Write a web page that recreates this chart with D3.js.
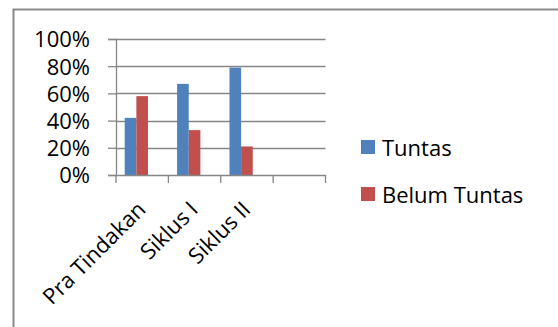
<!DOCTYPE html>
<html>
<head>
<meta charset="utf-8">
<script src="https://cdn.jsdelivr.net/npm/d3@7"></script>
<style>
  html, body { margin: 0; padding: 0; background: #fff; }
  svg { display: block; }
  text { font-family: "Open Sans", sans-serif; fill: #000; }
</style>
</head>
<body>
<script>
// Ketuntasan belajar per tahap
const categories = ["Pra Tindakan", "Siklus I", "Siklus II", ""];
const seriesNames = ["Tuntas", "Belum Tuntas"];
const tuntas = [42, 67, 79, null];
const belumTuntas = [58, 33, 21, null];
const yTicks = [0, 20, 40, 60, 80, 100];
const colors = ["#4F81BD", "#C0504D"];

const W = 558, H = 327;
const FONT = "Open Sans";
const FS = 22;
const svg = d3.select("body").append("svg").attr("width", W).attr("height", H);

// chart frame
svg.append("rect")
  .attr("x", 13.5).attr("y", 9.5)
  .attr("width", W + 20).attr("height", H + 20)
  .attr("fill", "none").attr("stroke", "#8a8a8a").attr("stroke-width", 2);

const plot = { left: 116, right: 325.5, top: 39, bottom: 175 };

const y = d3.scaleLinear().domain([0, 100]).range([plot.bottom, plot.top]);
const x0 = d3.scaleBand().domain(categories.map((d, i) => i))
  .range([plot.left, plot.right]).paddingInner(1 / 3).paddingOuter(1 / 6);
// three slots per category, the last one left empty
const x1 = d3.scaleBand().domain([0, 1, 2]).range([0, x0.bandwidth()]);

const axisColor = "#868686";

// gridlines
svg.append("g")
  .selectAll("line").data(yTicks.filter(t => t > 0)).join("line")
  .attr("x1", plot.left).attr("x2", plot.right)
  .attr("y1", d => Math.round(y(d)) + 0.5).attr("y2", d => Math.round(y(d)) + 0.5)
  .attr("stroke", axisColor).attr("stroke-width", 1.3);

// bars
const seriesData = [tuntas, belumTuntas];
seriesData.forEach((vals, si) => {
  svg.append("g").selectAll("rect")
    .data(vals.map((v, i) => ({ v, i })).filter(d => d.v != null))
    .join("rect")
    .attr("x", d => x0(d.i) + x1(si))
    .attr("width", x1.bandwidth())
    .attr("y", d => y(d.v))
    .attr("height", d => y(0) - y(d.v))
    .attr("fill", colors[si]);
});

// y axis
const yAxis = d3.axisLeft(y).tickValues(yTicks).tickFormat(d => d + "%")
  .tickSize(8).tickPadding(18);
const gy = svg.append("g").attr("transform", `translate(${plot.left},0)`).call(yAxis);
gy.select(".domain").attr("stroke", axisColor).attr("stroke-width", 1.3);
gy.selectAll(".tick line").attr("stroke", axisColor).attr("stroke-width", 1.3);
gy.selectAll(".tick text").attr("font-size", FS).attr("font-family", FONT)
  .attr("fill", "#000").attr("dy", "0.36em");

// x axis: ticks at category boundaries
const xBoundary = d3.scaleLinear().domain([0, categories.length]).range([plot.left, plot.right]);
const gx = svg.append("g");
gx.append("line")
  .attr("x1", plot.left).attr("x2", plot.right)
  .attr("y1", plot.bottom + 0.5).attr("y2", plot.bottom + 0.5)
  .attr("stroke", axisColor).attr("stroke-width", 1.3);
gx.selectAll("line.tk").data(d3.range(categories.length + 1)).join("line")
  .attr("class", "tk")
  .attr("x1", d => xBoundary(d)).attr("x2", d => xBoundary(d))
  .attr("y1", plot.bottom).attr("y2", plot.bottom + 8)
  .attr("stroke", axisColor).attr("stroke-width", 1.3);

gx.selectAll("text").data(categories.map((c, i) => ({ c, i })).filter(d => d.c)).join("text")
  .attr("transform", d => `translate(${x0(d.i) + x0.bandwidth() / 2 - 6},${plot.bottom + 25}) rotate(-45)`)
  .attr("text-anchor", "end")
  .attr("dy", "0.7em")
  .attr("font-size", FS)
  .text(d => d.c);

// legend
const legend = svg.append("g");
seriesNames.forEach((name, i) => {
  const ly = 140 + i * 47;
  legend.append("rect").attr("x", 361).attr("y", ly).attr("width", 14).attr("height", 14)
    .attr("fill", colors[i]);
  legend.append("text").attr("x", 382).attr("y", ly + 15.5)
    .attr("font-size", FS).text(name);
});
</script>
</body>
</html>
